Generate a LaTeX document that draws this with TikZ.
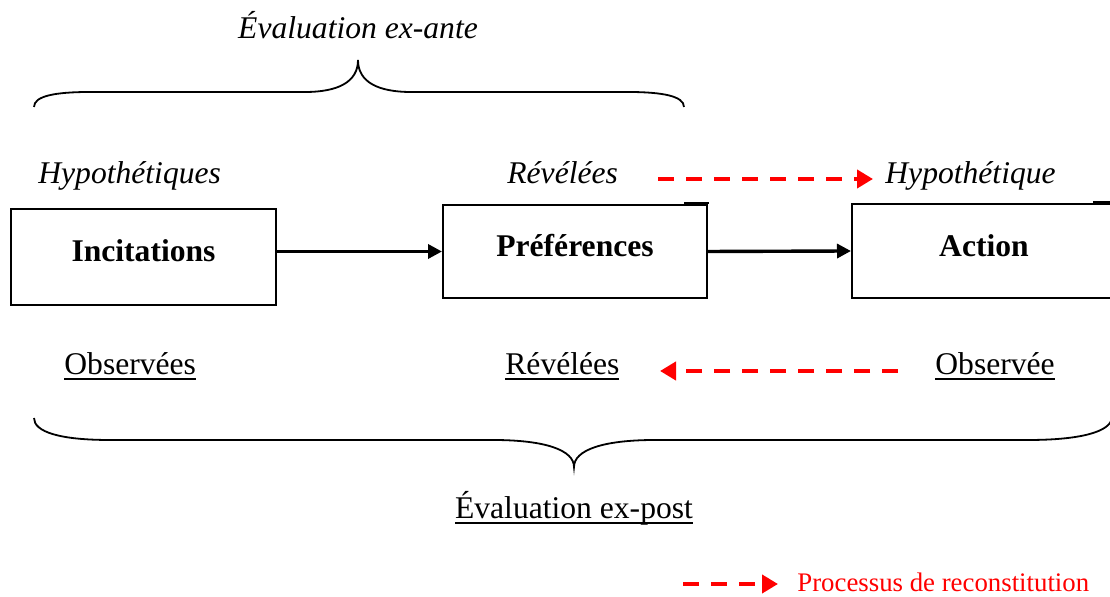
\documentclass[tikz,border=0pt]{standalone}
\usepackage{fontspec}
\setmainfont{Liberation Serif}
\usetikzlibrary{arrows.meta}
\newcommand{\ulin}[1]{{\setbox0\hbox{#1}\rlap{\rule[-2.3pt]{\wd0}{0.7pt}}\box0}}
\begin{document}
\begin{tikzpicture}[x=0.5pt,y=-0.5pt,
  txt/.style={inner sep=0pt, font=\fontsize{15.8}{18}\selectfont},
  boxn/.style={draw, line width=1pt, minimum width=132pt, inner sep=0pt},
  flow/.style={line width=1.7pt, -{Triangle[length=7pt,width=7pt]}},
  recon/.style={red, line width=2pt, dash pattern=on 8pt off 6pt, -{Triangle[length=8pt,width=9pt]}},
  brace/.style={line width=0.9pt}]
\useasboundingbox (0,0) rectangle (1110,597);
\clip (0,0) rectangle (1110,597);
% boxes
\node[boxn, minimum width=132.5pt, minimum height=48pt] (incit) at (143.5,257) {};
\node[boxn, minimum height=46.5pt] (pref) at (575,251.5) {};
\node[boxn, minimum height=47pt] (action) at (984,251) {};
\draw[line width=1pt] ([xshift=-12pt,yshift=0.5pt]pref.north east) -- ([yshift=0.5pt]pref.north east) -- (pref.north east);
\draw[line width=1pt] ([xshift=-12pt,yshift=0.5pt]action.north east) -- ([yshift=0.5pt]action.north east);
% box texts
\node[txt, anchor=base] (tincit) at (143.5,262) {\bfseries Incitations};
\node[txt, anchor=base] (tpref) at (575,257) {\bfseries Préférences};
\node[txt, anchor=base] (taction) at (984,257) {\bfseries Action};
% italic labels
\node[txt, anchor=base] (exante) at (358,39) {\itshape Évaluation ex-ante};
\node[txt, anchor=base west] (hyp1) at (38,184) {\itshape Hypothétiques};
\node[txt, anchor=base west] (rev1) at (507,184) {\itshape Révélées};
\node[txt, anchor=base west] (hyp2) at (885,184) {\itshape Hypothétique};
% underlined labels
\node[txt, anchor=base west] (obs1) at (64,375) {\ulin{Observées}};
\node[txt, anchor=base west] (rev2) at (505,375) {\ulin{Révélées}};
\node[txt, anchor=base west] (obs2) at (935,375) {\ulin{Observée}};
\node[txt, anchor=base] (expost) at (574,519) {\ulin{Évaluation ex-post}};
% legend
\node[inner sep=0pt, anchor=base west, red, font=\fontsize{13.4}{16}\selectfont] (legend) at (797,592) {Processus de reconstitution};
% flow arrows
\draw[flow] (incit.east |- pref.west) -- (pref.west);
\draw[flow] (pref.east) -- (action.west);
% reconstitution arrows
\coordinate (r1s) at (658,179);
\coordinate (r1e) at (873,179);
\coordinate (r2s) at (898,371);
\coordinate (r2e) at (660,371);
\coordinate (l1s) at (683,584);
\coordinate (l1e) at (778,584);
\draw[recon] (r1s) -- (r1e);
\draw[recon] (r2s) -- (r2e);
\draw[recon] (l1s) -- (l1e);
% top brace
\draw[brace] (34,107) .. controls (34,96) and (55,92) .. (90,92) -- (305,92)
  .. controls (338,92) and (358,82) .. (358,60)
  .. controls (358,82) and (378,92) .. (411,92) -- (628,92)
  .. controls (662,92) and (684,96) .. (684,107);
% bottom brace
\draw[brace] (34,418) .. controls (34,432) and (60,440) .. (110,440) -- (493,440)
  .. controls (545,440) and (574,450) .. (574,467)
  .. controls (574,450) and (603,440) .. (655,440) -- (1028,440)
  .. controls (1080,440) and (1110,432) .. (1112,418);
\end{tikzpicture}
\end{document}
